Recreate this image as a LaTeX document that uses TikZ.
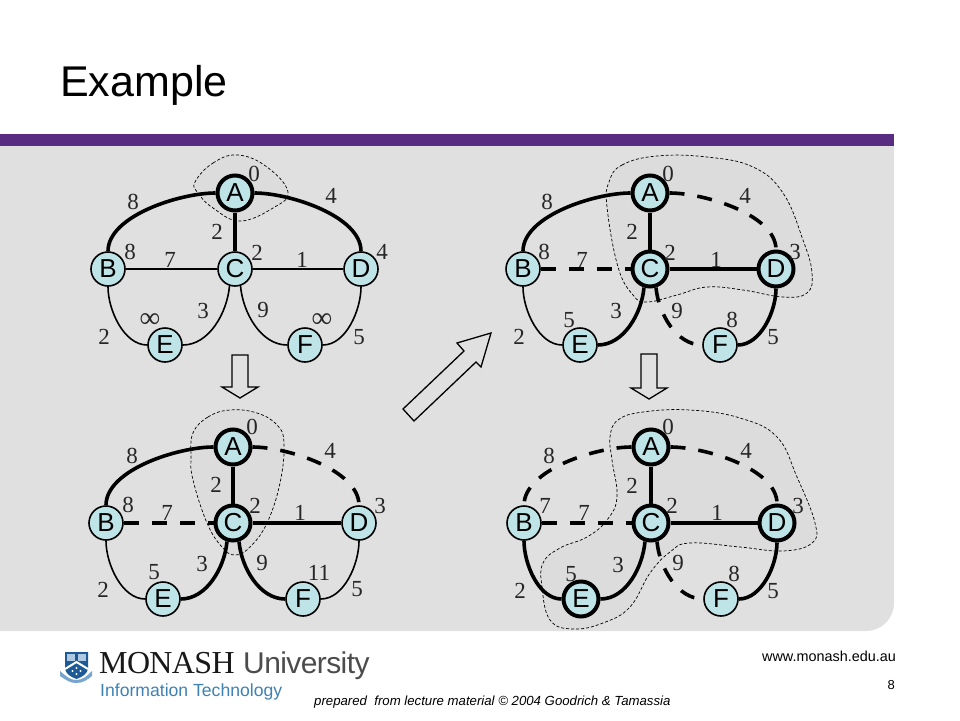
\documentclass[tikz,border=0pt]{standalone}
\usepackage{fontspec}
\setmainfont{Liberation Serif}
\setsansfont{Liberation Sans}
\definecolor{panel}{RGB}{224,224,224}
\definecolor{region}{RGB}{220,220,220}
\definecolor{bar}{RGB}{88,44,128}
\definecolor{vfill}{RGB}{190,228,232}
\definecolor{itblue}{RGB}{62,130,180}
\definecolor{shield}{RGB}{30,90,150}
\definecolor{ribbon}{RGB}{120,165,205}
\tikzset{
  x=1pt,y=-1pt,
  regionshape/.style={draw=black,fill=region,line width=0.7pt,dash pattern=on 3pt off 2pt},
  vertex/.style={circle,draw=black,fill=vfill,line width=1.6pt,minimum size=34pt,inner sep=0pt,font=\sffamily\fontsize{26}{26}\selectfont},
  vertexheavy/.style={vertex,line width=4pt,minimum size=35pt},
  lightedge/.style={draw=black,line width=1.6pt},
  heavyedge/.style={draw=black,line width=3.6pt},
  dashededge/.style={draw=black,line width=3.6pt,dash pattern=on 15pt off 13pt},
  numlabel/.style={font=\rmfamily\fontsize{23}{23}\selectfont,text=black!85,inner sep=0pt},
  inflabel/.style={numlabel,font=\rmfamily\fontsize{29}{29}\selectfont},
  blockarrow/.style={draw=black,fill=panel,line width=1.3pt,line join=miter},
}
\newcommand{\gedges}[9]{%
  \draw[#1] (A) to[out=180,in=90,looseness=0.74] (B);
  \draw[#2] (A) -- (C);
  \draw[#3] (A) to[out=0,in=90,looseness=0.74] (D);
  \draw[#4] (B) -- (C);
  \draw[#5] (C) -- (D);
  \draw[#6] (B) to[out=-90,in=180,looseness=0.85] (E);
  \draw[#7] (C.252) to[out=-95,in=0,looseness=0.9] (E);
  \draw[#8] (C.288) to[out=-85,in=180,looseness=0.9] (F);
  \draw[#9] (D) to[out=-90,in=0,looseness=0.85] (F);
}
\newcommand{\gvertices}[6]{%
  \node[#1] (A) at (0,0) {A};
  \node[#2] (B) at (-127,76) {B};
  \node[#3] (C) at (0,76) {C};
  \node[#4] (D) at (126,76) {D};
  \node[#5] (E) at (-70,152) {E};
  \node[#6] (F) at (70,152) {F};
}
\begin{document}
\begin{tikzpicture}
\useasboundingbox (0,0) rectangle (960,720);
\fill[white] (0,0) rectangle (960,720);
% panel
\fill[panel] (0,146) -- (894,146) -- (894,603) .. controls (894,619) and (881,631) .. (866,631) -- (0,631) -- cycle;
\fill[bar] (0,134) rectangle (894,146);
\node[anchor=west,inner sep=0pt,font=\sffamily\fontsize{43}{43}\selectfont] (title) at (60,85) {Example};
% regions
\draw[regionshape] plot[smooth cycle,tension=0.7] coordinates {(195,182)(213,163)(238,155)(267,167)(288,192)(273,208)(240,221)(213,208)(198,193)};
\draw[regionshape] plot[smooth cycle,tension=0.7] coordinates {(609,182)(622,165)(657,156)(707,157)(753,167)(783,193)(803,240)(812,273)(807,293)(783,297)(743,290)(707,287)(677,295)(647,302)(633,295)(618,267)(607,207)};
\draw[regionshape] plot[smooth cycle,tension=0.7] coordinates {(193,433)(208,417)(230,410)(257,413)(277,425)(284,443)(280,483)(267,523)(250,547)(235,555)(222,547)(207,523)(193,480)(191,457)};
\draw[regionshape] plot[smooth cycle,tension=0.7] coordinates {(610,437)(618,420)(643,412)(690,410)(740,418)(777,437)(797,477)(815,523)(812,543)(783,551)(740,547)(690,543)(670,552)(650,573)(630,607)(603,623)(573,629)(550,620)(542,587)(543,563)(560,548)(587,537)(607,520)(617,497)(612,460)};
% graph 1
\begin{scope}[shift={(235,193)}]
\gvertices{vertexheavy}{vertex}{vertex}{vertex}{vertex}{vertex}
\gedges{heavyedge}{heavyedge}{heavyedge}{lightedge}{lightedge}{lightedge}{lightedge}{lightedge}{lightedge}
\end{scope}
\node[numlabel] (a1) at (254,174) {0};
\node[numlabel] (a2) at (133,202) {8};
\node[numlabel] (a3) at (331,196) {4};
\node[numlabel] (a4) at (217,232) {2};
\node[numlabel] (a5) at (130,252) {8};
\node[numlabel] (a6) at (170,260) {7};
\node[numlabel] (a7) at (257,253) {2};
\node[numlabel] (a8) at (302,260) {1};
\node[numlabel] (a9) at (382,252) {4};
\node[numlabel] (a10) at (203,311) {3};
\node[numlabel] (a11) at (263,310) {9};
\node[numlabel] (a12) at (104,337) {2};
\node[numlabel] (a13) at (359,337) {5};
\node[inflabel] (a14) at (150,321) {∞};
\node[inflabel] (a15) at (322,321) {∞};
% graph 2
\begin{scope}[shift={(650,193)}]
\gvertices{vertexheavy}{vertex}{vertexheavy}{vertexheavy}{vertex}{vertex}
\gedges{heavyedge}{heavyedge}{dashededge}{dashededge}{heavyedge}{lightedge}{heavyedge}{dashededge}{heavyedge}
\end{scope}
\node[numlabel] (b1) at (668,174) {0};
\node[numlabel] (b2) at (547,202) {8};
\node[numlabel] (b3) at (745,196) {4};
\node[numlabel] (b4) at (632,232) {2};
\node[numlabel] (b5) at (544,252) {8};
\node[numlabel] (b6) at (582,260) {7};
\node[numlabel] (b7) at (670,253) {2};
\node[numlabel] (b8) at (716,260) {1};
\node[numlabel] (b9) at (795,252) {3};
\node[numlabel] (b10) at (616,311) {3};
\node[numlabel] (b11) at (677,311) {9};
\node[numlabel] (b12) at (519,337) {2};
\node[numlabel] (b13) at (773,337) {5};
\node[numlabel] (b14) at (569,320) {5};
\node[numlabel] (b15) at (732,320) {8};
% graph 3
\begin{scope}[shift={(233,447)}]
\gvertices{vertexheavy}{vertex}{vertexheavy}{vertex}{vertex}{vertex}
\gedges{heavyedge}{heavyedge}{dashededge}{dashededge}{heavyedge}{lightedge}{heavyedge}{heavyedge}{lightedge}
\end{scope}
\node[numlabel] (c1) at (252,427) {0};
\node[numlabel] (c2) at (132,456) {8};
\node[numlabel] (c3) at (330,451) {4};
\node[numlabel] (c4) at (216,485) {2};
\node[numlabel] (c5) at (128,505) {8};
\node[numlabel] (c6) at (167,513) {7};
\node[numlabel] (c7) at (255,506) {2};
\node[numlabel] (c8) at (300,513) {1};
\node[numlabel] (c9) at (380,506) {3};
\node[numlabel] (c10) at (202,564) {3};
\node[numlabel] (c11) at (262,563) {9};
\node[numlabel] (c12) at (103,590) {2};
\node[numlabel] (c13) at (357,589) {5};
\node[numlabel] (c14) at (154,572) {5};
\node[numlabel] (c15) at (319,573) {11};
% graph 4
\begin{scope}[shift={(651,447)}]
\gvertices{vertexheavy}{vertex}{vertexheavy}{vertexheavy}{vertexheavy}{vertex}
\gedges{dashededge}{heavyedge}{dashededge}{dashededge}{heavyedge}{heavyedge}{heavyedge}{dashededge}{heavyedge}
\end{scope}
\node[numlabel] (d1) at (668,427) {0};
\node[numlabel] (d2) at (549,456) {8};
\node[numlabel] (d3) at (746,451) {4};
\node[numlabel] (d4) at (632,486) {2};
\node[numlabel] (d5) at (545,506) {7};
\node[numlabel] (d6) at (584,513) {7};
\node[numlabel] (d7) at (672,506) {2};
\node[numlabel] (d8) at (717,513) {1};
\node[numlabel] (d9) at (798,506) {3};
\node[numlabel] (d10) at (618,565) {3};
\node[numlabel] (d11) at (678,563) {9};
\node[numlabel] (d12) at (520,591) {2};
\node[numlabel] (d13) at (773,591) {5};
\node[numlabel] (d14) at (571,574) {5};
\node[numlabel] (d15) at (734,574) {8};
% block arrows
\draw[blockarrow] (232,355) -- (248,355) -- (248,387) -- (258,387) -- (240,398) -- (222,387) -- (232,387) -- cycle;
\draw[blockarrow] (641,354) -- (657,354) -- (657,388) -- (667,388) -- (649,399) -- (631,388) -- (641,388) -- cycle;
\draw[blockarrow] (403,409) -- (464,351) -- (457,343) -- (491,333) -- (481,367) -- (476,362) -- (414,421) -- cycle;
% logo: crest
\fill[ribbon] (60,671) .. controls (66,676) and (70,680) .. (76,680) .. controls (83,680) and (87,676) .. (92,671) -- (92,676) .. controls (87,680) and (83,683) .. (76,683) .. controls (70,683) and (66,680) .. (60,676) -- cycle;
\fill[shield] (65,652) -- (88,652) -- (88,669) .. controls (87,674) and (82,677) .. (76.5,679) .. controls (71,677) and (66,674) .. (65,669) -- cycle;
\fill[ribbon!60!white] (67,654) rectangle (75,661);
\fill[ribbon!60!white] (78,654) rectangle (86,661);
\draw[white,line width=2pt] (65,669) -- (76.5,662) -- (88,669);
\fill[white] (76.5,668) circle (1.1) (72.5,671) circle (1.1) (80.5,671) circle (1.1) (76.5,674) circle (1.1);
\node[anchor=base west,inner sep=0pt,font=\rmfamily\fontsize{32}{32}\selectfont,text=black!90] (monash) at (99,673) {\addfontfeature{LetterSpace=-2}MONASH};
\node[anchor=base west,inner sep=0pt,font=\sffamily\fontsize{30}{30}\selectfont,text=black!70] (univ) at (243,673) {\addfontfeature{LetterSpace=-2}University};
\node[anchor=west,inner sep=0pt,font=\sffamily\fontsize{17.6}{17.6}\selectfont,text=itblue] (it) at (100,692) {Information Technology};
% footer
\node[anchor=east,inner sep=0pt,font=\sffamily\fontsize{14.4}{14.4}\selectfont] (url) at (896,656) {www.monash.edu.au};
\node[anchor=east,inner sep=0pt,font=\sffamily\fontsize{13}{13}\selectfont] (page) at (895,685) {8};
\node[anchor=west,inner sep=0pt,font=\sffamily\itshape\fontsize{13.2}{13.2}\selectfont] (credit) at (314,702) {prepared\ \ from lecture material © 2004 Goodrich \& Tamassia};
\end{tikzpicture}
\end{document}
